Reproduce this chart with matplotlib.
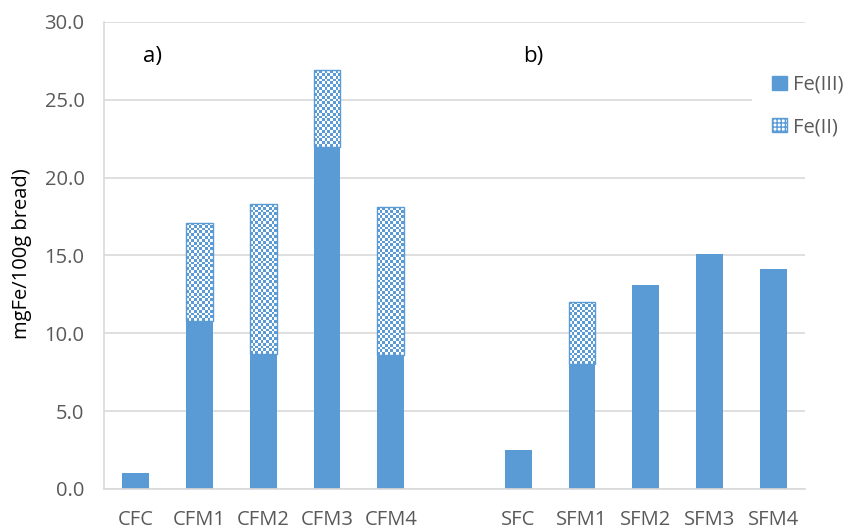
import numpy as np
import matplotlib.pyplot as plt
from matplotlib.patches import Patch

categories = ["CFC", "CFM1", "CFM2", "CFM3", "CFM4", "", "SFC", "SFM1", "SFM2", "SFM3", "SFM4"]
fe3 = [1.0, 10.8, 8.7, 22.0, 8.6, np.nan, 2.5, 8.0, 13.1, 15.1, 14.1]
fe2 = [np.nan, 6.3, 9.6, 4.9, 9.5, np.nan, np.nan, 4.0, np.nan, np.nan, np.nan]

blue = "#5B9BD5"
grey_txt = "#595959"
grid_col = "#D9D9D9"

plt.rcParams["font.family"] = ["Open Sans", "DejaVu Sans"]

fig = plt.figure(figsize=(8.51, 5.30), dpi=100)
ax = fig.add_axes([0.1222, 0.0774, 0.8238, 0.8811])

x = np.arange(len(categories))
w = 0.42
ax.bar(x, fe3, width=w, color=blue, zorder=2)
top = ax.bar(x, fe2, width=w, bottom=fe3, color="none", edgecolor=blue,
             linewidth=1.0, zorder=4)

ax.set_xlim(-0.5, len(categories) - 0.5)
ax.set_ylim(0, 30)
ax.set_yticks(np.arange(0, 31, 5))
ax.set_yticklabels([f"{v:.1f}" for v in np.arange(0, 31, 5)])
ax.set_xticks(x)
ax.set_xticklabels(categories)

# checkerboard fill for Fe(II)
cell_px = 2.8
rgb = np.array([0x5B, 0x9B, 0xD5]) / 255
for p in top:
    if not np.isfinite(p.get_height()) or p.get_height() <= 0:
        continue
    x0, y0 = p.get_x(), p.get_y()
    x1, y1 = x0 + p.get_width(), y0 + p.get_height()
    (px0, py0), (px1, py1) = ax.transData.transform([(x0, y0), (x1, y1)])
    nx = max(1, int(round((px1 - px0) / cell_px)))
    ny = max(1, int(round((py1 - py0) / cell_px)))
    chk = np.add.outer(np.arange(ny), np.arange(nx)) % 2
    img = np.ones((ny, nx, 3))
    img[chk == 0] = rgb
    im = ax.imshow(img, extent=(x0, x1, y0, y1), aspect="auto",
                   interpolation="nearest", zorder=3)
    im.set_clip_path(p)

ax.set_xlim(-0.5, len(categories) - 0.5)
ax.set_ylim(0, 30)

ax.yaxis.grid(True, color=grid_col, linewidth=1.2, zorder=0)
ax.set_axisbelow(True)
for s in ["top", "right"]:
    ax.spines[s].set_visible(False)
for s in ["left", "bottom"]:
    ax.spines[s].set_color(grid_col)
    ax.spines[s].set_linewidth(1.2)

ax.tick_params(axis="both", length=0, labelsize=14.5, labelcolor=grey_txt)
ax.tick_params(axis="y", pad=14)
ax.tick_params(axis="x", pad=15)

ax.set_ylabel("mgFe/100g bread)", fontsize=14.5, color="black")
ax.yaxis.set_label_coords(-0.103, 0.505)

ax.text(0.056, 0.927, "a)", transform=ax.transAxes, fontsize=16, color="black",
        va="center")
ax.text(0.598, 0.927, "b)", transform=ax.transAxes, fontsize=16, color="black",
        va="center")

handles = [Patch(facecolor=blue, edgecolor=blue, label="Fe(III)"),
           Patch(facecolor="white", edgecolor=blue, hatch="++++", label="Fe(II)")]
leg = fig.legend(handles=handles, loc="center left", bbox_to_anchor=(0.872, 0.80),
                 frameon=True, fontsize=14.5, labelspacing=1.1, handlelength=0.75,
                 handleheight=0.75, handletextpad=0.3, borderpad=1.0)
leg.get_frame().set_edgecolor("none")
leg.get_frame().set_facecolor("white")
leg.get_frame().set_alpha(1)
leg.set_zorder(10)
for t in leg.get_texts():
    t.set_color(grey_txt)

fig.savefig("out.png", dpi=100)
